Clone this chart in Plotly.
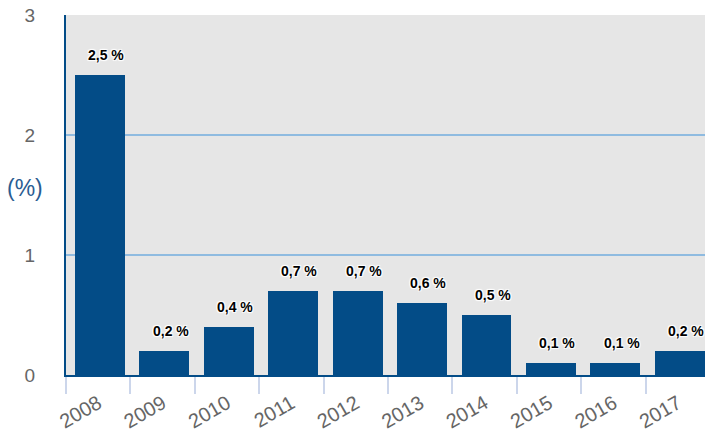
import plotly.graph_objects as go

years = ["2008", "2009", "2010", "2011", "2012", "2013", "2014", "2015", "2016", "2017"]
values = [2.5, 0.2, 0.4, 0.7, 0.7, 0.6, 0.5, 0.1, 0.1, 0.2]
labels = ["2,5 %", "0,2 %", "0,4 %", "0,7 %", "0,7 %", "0,6 %", "0,5 %", "0,1 %", "0,1 %", "0,2 %"]
y_ticks = [0, 1, 2, 3]

bar_color = "#034c87"
axis_blue = "#2a5c92"

fig = go.Figure()
fig.add_trace(go.Bar(
    x=years, y=values,
    marker=dict(color=bar_color, line=dict(width=0)),
    width=0.775, offset=-0.36,
    hoverinfo="skip",
))

shadow = "white 1px 1px 1px, white -1px -1px 1px, white 1px -1px 1px, white -1px 1px 1px"
for i, (v, t) in enumerate(zip(values, labels)):
    fig.add_annotation(
        x=i, y=v, text=t, showarrow=False, xref="x", yref="y",
        xanchor="center", yanchor="bottom", yshift=10, xshift=8,
        font=dict(family="Liberation Sans, Arial", size=14, color="black",
                  weight="bold", shadow=shadow),
    )

fig.add_annotation(
    x=(25 - 66) / 639, y=(375 - 188) / 360, xref="paper", yref="paper",
    xanchor="center", yanchor="middle",
    text="(%)", showarrow=False,
    font=dict(family="Liberation Sans, Arial", size=23, color=axis_blue),
)

fig.update_layout(
    width=705, height=436,
    margin=dict(l=66, r=0, t=15, b=61),
    paper_bgcolor="white",
    plot_bgcolor="#e6e6e6",
    showlegend=False,
    bargap=0,
    xaxis=dict(
        type="category",
        range=[-0.5, 9.42],
        tickson="boundaries",
        ticks="outside", ticklen=17, tickwidth=1.5, tickcolor="#ccd6eb",
        tickangle=-30,
        ticklabelstandoff=7,
        tickfont=dict(family="Liberation Sans, Arial", size=20, color="#666666"),
        showgrid=False,
        showline=True, linecolor=bar_color, linewidth=2,
        automargin=False,
        fixedrange=True,
    ),
    yaxis=dict(
        range=[0, 3],
        tickvals=y_ticks,
        ticktext=[str(v) for v in y_ticks],
        ticks="",
        ticklabelstandoff=25,
        tickfont=dict(family="Liberation Sans, Arial", size=19, color="#666666"),
        showgrid=True, gridcolor="#8fbbe0", gridwidth=1.5,
        zeroline=False,
        showline=True, linecolor=bar_color, linewidth=2,
        automargin=False,
        fixedrange=True,
    ),
)

fig.write_html(
    "out.html",
    config={"displayModeBar": False},
    post_script="document.body.style.margin='0';document.body.style.overflow='hidden';",
)
